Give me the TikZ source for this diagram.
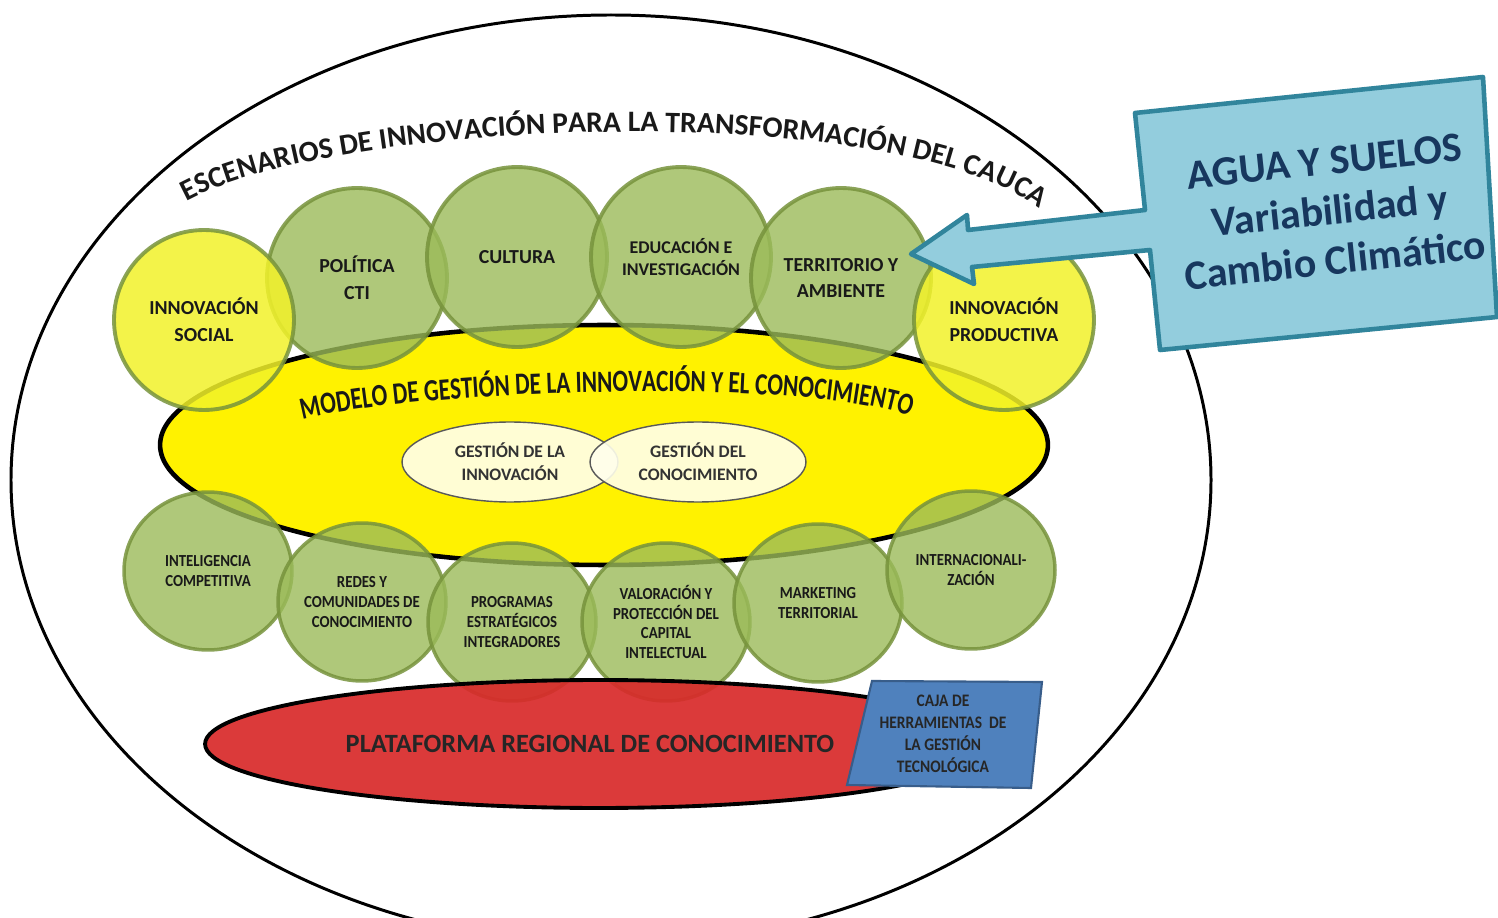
\documentclass[tikz,border=0pt]{standalone}
\usepackage{fontspec}
\setmainfont{Carlito}
\newfontfamily\condfont[FakeStretch=0.88]{Carlito}
\newfontfamily\narrowfont[FakeStretch=0.75]{Carlito}
\usetikzlibrary{shapes.geometric,decorations.text}

\definecolor{olivefill}{HTML}{9BBB59}
\definecolor{oliveline}{HTML}{77933C}
\definecolor{yellowfill}{HTML}{F2F22A}
\definecolor{plataformared}{HTML}{D82A2A}
\definecolor{cajablue}{HTML}{4F81BD}
\definecolor{cajaline}{HTML}{385D8A}
\definecolor{calloutfill}{HTML}{93CDDD}
\definecolor{calloutline}{HTML}{31859C}
\definecolor{callouttext}{HTML}{17375E}
\definecolor{cream}{HTML}{FFFFEC}

\begin{document}
\begin{tikzpicture}[x=0.02cm,y=-0.02cm,
	escenario/.style={circle,minimum size=3.6cm,inner sep=0pt,align=center,
		draw=oliveline,line width=2.2pt,draw opacity=0.85,fill=olivefill,fill opacity=0.8,
		text opacity=1,text=black!90,font=\bfseries\fontsize{11.3}{15.3}\selectfont},
	productiva/.style={escenario,fill=yellowfill,fill opacity=0.85},
	soporte/.style={escenario,ellipse,minimum width=3.36cm,minimum height=3.16cm,line width=2pt,
		font=\condfont\bfseries\fontsize{9.6}{11.3}\selectfont},
	gestion/.style={ellipse,minimum width=4.32cm,minimum height=1.6cm,inner sep=0pt,align=center,
		draw=black!65,line width=0.8pt,fill=cream,fill opacity=0.9,text opacity=1,text=black!80,
		font=\bfseries\fontsize{10}{13}\selectfont}]
	\fill[white] (0,0) rectangle (1498,918);
	\useasboundingbox (0,0) rectangle (1498,918);
	% escenarios
	\draw[line width=1.7pt] (611,480) ellipse [x radius=600, y radius=465];
	\path[decorate,decoration={text along path,text align=center,text color=black!90,
		text={|\bfseries\fontsize{16.9}{20}\selectfont|ESCENARIOS DE INNOVACIÓN PARA LA TRANSFORMACIÓN DEL CAUCA}}]
		(172,210) .. controls (302,118) and (918,91) .. (1052,219);
	% modelo de gestion
	\node[ellipse,minimum width=17.76cm,minimum height=4.8cm,draw=black,line width=2.6pt,fill=yellow] (modelo) at (604,445) {};
	\path[decorate,decoration={text along path,text align=center,text color=black!90,
		text={|\narrowfont\bfseries\fontsize{17.6}{20}\selectfont|MODELO DE GESTIÓN DE LA INNOVACIÓN Y EL CONOCIMIENTO}}]
		(300,420) .. controls (412,390) and (800,376) .. (912,417);
	\node[gestion] (gestinn) at (510,462) {GESTIÓN DE LA\\INNOVACIÓN};
	\node[gestion] (gestcon) at (698,462) {GESTIÓN DEL\\CONOCIMIENTO};
	% circulos superiores
	\node[escenario] (politica) at (357,278) {POLÍTICA\\CTI};
	\node[escenario] (cultura) at (517,257) {CULTURA};
	\node[escenario,font=\bfseries\fontsize{10.2}{13}\selectfont] (educacion) at (681,257) {EDUCACIÓN E\\INVESTIGACIÓN};
	\node[escenario] (territorio) at (841,278) {TERRITORIO Y\\AMBIENTE};
	\node[productiva] (social) at (204,320) {INNOVACIÓN\\SOCIAL};
	\node[productiva] (productiva) at (1004,320) {INNOVACIÓN\\PRODUCTIVA};
	% circulos inferiores
	\node[soporte] (intel) at (208,571) {INTELIGENCIA\\COMPETITIVA};
	\node[soporte] (redes) at (362,602) {REDES Y\\COMUNIDADES DE\\CONOCIMIENTO};
	\node[soporte] (programas) at (512,622) {PROGRAMAS\\ESTRATÉGICOS\\INTEGRADORES};
	\node[soporte] (valoracion) at (666,622) {VALORACIÓN Y\\PROTECCIÓN DEL\\CAPITAL\\INTELECTUAL};
	\node[soporte] (marketing) at (818,603) {MARKETING\\TERRITORIAL};
	\node[soporte] (internac) at (971,570) {INTERNACIONALI-\\ZACIÓN};
	% plataforma
	\node[ellipse,minimum width=15.76cm,minimum height=2.56cm,draw=black,line width=2.2pt,
		fill=plataformared,fill opacity=0.92] (plataforma) at (599,744) {};
	\node[font=\bfseries\fontsize{15}{18}\selectfont,text=black!85] (plataformatxt) at (590,744) {PLATAFORMA REGIONAL DE CONOCIMIENTO};
	\draw[fill=cajablue,draw=cajaline,line width=1.2pt] (872,681) -- (1042,682) -- (1031,788) -- (847,785) -- cycle;
	\node[align=center,text=black!85,font=\condfont\bfseries\fontsize{10}{12.5}\selectfont] (caja) at (943,734)
		{CAJA DE\\HERRAMIENTAS\ \ DE\\LA GESTIÓN\\TECNOLÓGICA};
	% llamada
	\draw[fill=calloutfill,draw=calloutline,line width=2.6pt,line join=round]
		(1135,113) -- (1483,77) -- (1497,317) -- (1160,350) -- (1150,250) -- (972,267)
		-- (974,284) -- (911,254) -- (967,215) -- (968,230) -- (1145,210) -- cycle;
	\node[rotate=6,align=center,text=callouttext,font=\bfseries\fontsize{23.8}{28.5}\selectfont] (agua) at (1330,211)
		{AGUA Y SUELOS\\Variabilidad y\\Cambio Climático};
\end{tikzpicture}
\end{document}
